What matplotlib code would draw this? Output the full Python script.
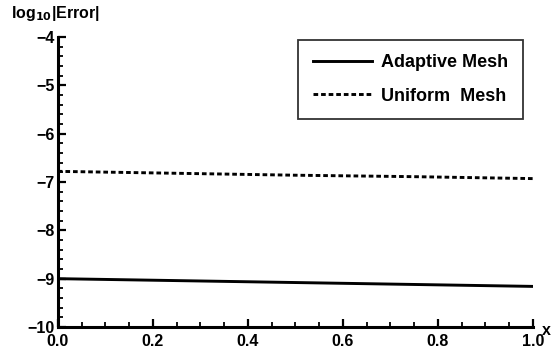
import matplotlib
matplotlib.use("Agg")
import matplotlib.pyplot as plt
from matplotlib.ticker import MultipleLocator, FormatStrFormatter

x_vals = [0.0, 0.25, 0.5, 0.75, 1.0]
adaptive = [-9.00, -9.04, -9.08, -9.12, -9.16]
uniform = [-6.78, -6.82, -6.86, -6.89, -6.93]
labels = ["Adaptive Mesh", "Uniform  Mesh"]

plt.rcParams['font.family'] = ['Liberation Sans', 'DejaVu Sans']
plt.rcParams['font.weight'] = 'bold'

fig = plt.figure(figsize=(5.51, 3.52), dpi=100)
ax = fig.add_axes([0.105, 0.071, 0.862, 0.824])
ax.plot(x_vals, adaptive, color='black', lw=2.1, label=labels[0])
ax.plot(x_vals, uniform, color='black', lw=2.1, ls=(0, (1.6, 1.0)), label=labels[1])
ax.set_xlim(0, 1.0)
ax.set_ylim(-10, -4)
for s in ['top', 'right']:
    ax.spines[s].set_visible(False)
for s in ['left', 'bottom']:
    ax.spines[s].set_linewidth(2.2)
ax.xaxis.set_major_locator(MultipleLocator(0.2))
ax.xaxis.set_minor_locator(MultipleLocator(0.05))
ax.yaxis.set_major_locator(MultipleLocator(1))
ax.yaxis.set_minor_locator(MultipleLocator(0.2))
ax.xaxis.set_major_formatter(FormatStrFormatter('%.1f'))
ax.tick_params(which='major', direction='in', length=6, width=1.6, labelsize=11.5)
ax.tick_params(axis='x', which='major', pad=5)
ax.tick_params(axis='y', which='major', pad=2)
ax.tick_params(which='minor', direction='in', length=3.5, width=1.3)
for lab in ax.get_xticklabels() + ax.get_yticklabels():
    lab.set_fontweight('bold')
fig.text(0.02, 0.962, r'log$_{\mathbf{10}}$|Error|', fontsize=11.5, fontweight='bold', va='center', ha='left')
fig.text(0.992, 0.06, 'x', fontsize=11.5, fontweight='bold', ha='center', va='center')
leg = ax.legend(loc='upper right', bbox_to_anchor=(0.979, 0.99), frameon=True, fancybox=False,
                edgecolor='black', prop={'weight': 'bold', 'size': 13}, handlelength=3.3,
                borderpad=0.8, labelspacing=0.9, handletextpad=0.5, borderaxespad=0.0)
leg.get_frame().set_linewidth(1.3)
fig.savefig('out.png', dpi=100)
